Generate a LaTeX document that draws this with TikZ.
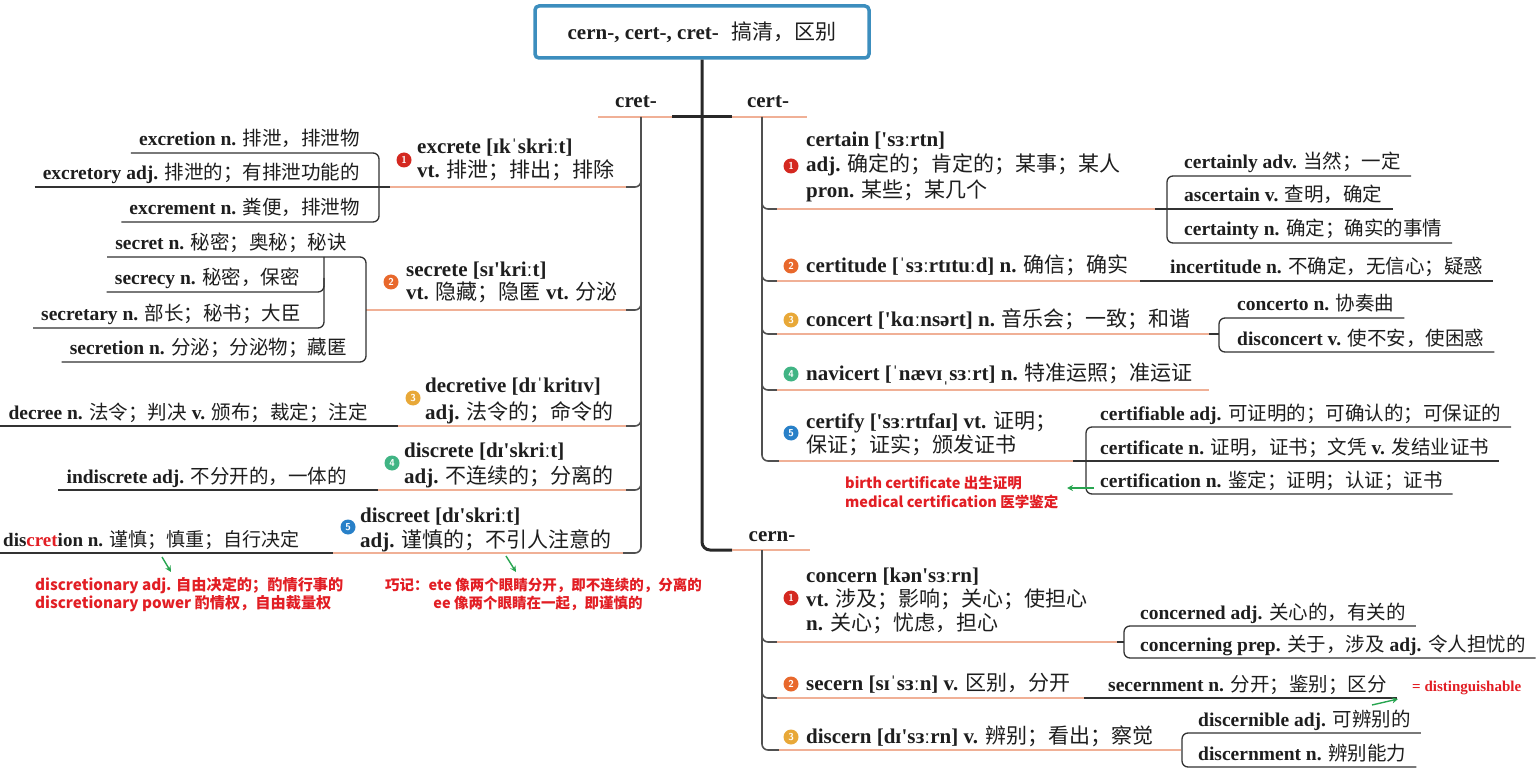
\documentclass[tikz,border=0pt]{standalone}
\usepackage{fontspec}
\setmainfont{Liberation Serif}
\newfontfamily\zhfont{Noto Sans CJK SC}
\newfontfamily\redfont{Noto Sans CJK SC}
\usetikzlibrary{calc,arrows.meta}
\newcommand\zh[1]{{\zhfont\mdseries #1}}
\newcommand\qs{\textquotesingle}
\definecolor{tblue}{RGB}{60,142,190}
\definecolor{trunkc}{RGB}{40,40,40}
\definecolor{brc}{RGB}{80,80,80}
\definecolor{salc}{RGB}{240,176,150}
\definecolor{kidc}{RGB}{50,50,50}
\definecolor{redc}{RGB}{226,30,36}
\definecolor{grnc}{RGB}{40,165,80}
\definecolor{bA}{RGB}{212,40,32}
\definecolor{bB}{RGB}{232,104,44}
\definecolor{bC}{RGB}{232,168,56}
\definecolor{bD}{RGB}{64,180,132}
\definecolor{bE}{RGB}{40,128,200}
\definecolor{txt}{RGB}{30,30,30}
\tikzset{
 it/.style={anchor=base west, inner sep=0pt, font=\fontsize{21}{25}\selectfont\bfseries, text=txt},
 kidL/.style={anchor=base east, inner sep=0pt, font=\fontsize{19.5}{23}\selectfont\bfseries, text=txt},
 kidR/.style={anchor=base west, inner sep=0pt, font=\fontsize{19.5}{23}\selectfont\bfseries, text=txt},
 notered/.style={anchor=base west, inner sep=0pt, font=\redfont\bfseries\fontsize{14.5}{17}\selectfont, text=redc},
 badge/.style={circle, inner sep=0pt, minimum size=15pt, text=white, font=\sffamily\bfseries\fontsize{10}{10}\selectfont},
 brlabel/.style={anchor=base, inner sep=0pt, font=\fontsize{21}{25}\selectfont\bfseries, text=txt},
 trunk/.style={draw=trunkc, line width=3pt},
 brl/.style={draw=brc, line width=1.6pt, rounded corners=6pt},
 sal/.style={draw=salc, line width=1.6pt},
 kid/.style={draw=kidc, line width=1.3pt, rounded corners=6pt},
 arr/.style={draw=grnc, line width=1.4pt, -{Stealth[length=6pt,width=6pt]}},
}
\begin{document}
\begin{tikzpicture}[x=1pt,y=-1pt]
\path[fill=white] (0,0) rectangle (1536,775);
\useasboundingbox (0,0) rectangle (1536,775);

% title and trunk
\node[draw=tblue, line width=3.5pt, rounded corners=4pt, minimum width=334pt, minimum height=52pt, inner sep=0pt, font=\fontsize{21}{25}\selectfont\bfseries, text=txt] (title) at (702,32) {cern-, cert-, cret-\hspace{0.6em}\zh{搞清，区别}};
\draw[trunk, rounded corners=8pt] (title.south) -- (702,550) -- (732,550);
\draw[trunk] (672,117) -- (732,117);
\draw[sal] (598,117) -- (672,117);
\draw[sal] (732,117) -- (807,117);
\draw[sal] (732,550) -- (810,550);
\node[brlabel] (cret) at (636,108) {cret-};
\node[brlabel] (cert) at (768,108) {cert-};
\node[brlabel] (cern) at (772,541) {cern-};

% ===== cret- branch =====
\draw[brl] (641,117) -- (641,553) -- (622,553);

% excrete
\node[badge, fill=bA] (bd1) at (404,160) {1};
\node[it] (exA) at (417,154) {excrete [ɪkˈskriːt]};
\node[it] (exB) at (417,178) {vt. \zh{排泄；排出；排除}};
\draw[sal] (389,187) -- (627,187);
\draw[brl] (641,170) -- (641,187) -- (626,187);
\node[kidL] (exa) at (360,146) {excretion n. \zh{排泄，排泄物}};
\node[kidL] (exb) at (360,180) {excretory adj. \zh{排泄的；有排泄功能的}};
\node[kidL] (exc) at (360,215) {excrement n. \zh{粪便，排泄物}};
\draw[kid] let \p1=(exa.west), \p2=(exc.west) in ({\x1-8},153) -- (379,153) -- (379,222) -- ({\x2-8},222);
\draw[kid] let \p1=(exb.west) in ({\x1-8},187) -- (390,187);

% secrete
\node[badge, fill=bB] (bd2) at (391,282) {2};
\node[it] (seA) at (406,277) {secrete [sɪ\qs kriːt]};
\node[it] (seB) at (406,300) {vt. \zh{隐藏；隐匿} vt. \zh{分泌}};
\draw[sal] (366,310) -- (627,310);
\draw[brl] (641,290) -- (641,310) -- (626,310);
\node[kidL] (sea) at (347,250) {secret n. \zh{秘密；奥秘；秘诀}};
\node[kidL] (seb) at (300,285) {secrecy n. \zh{秘密，保密}};
\node[kidL] (sec) at (301,321) {secretary n. \zh{部长；秘书；大臣}};
\node[kidL] (sed) at (347,355) {secretion n. \zh{分泌；分泌物；藏匿}};
\draw[kid] let \p1=(sea.west), \p2=(sed.west) in ({\x1-8},257) -- (366,257) -- (366,362) -- ({\x2-8},362);
\draw[kid] let \p1=(sec.west) in (324,257) -- (324,328) -- ({\x1-8},328);
\draw[kid] let \p1=(seb.west) in ({\x1-8},292) -- (324,292) -- (324,278);

% decretive
\node[badge, fill=bC] (bd3) at (413,398) {3};
\node[it] (deA) at (425,392) {decretive [dɪˈkritɪv]};
\node[it] (deB) at (425,419) {adj. \zh{法令的；命令的}};
\draw[sal] (398,426) -- (627,426);
\draw[brl] (641,405) -- (641,426) -- (626,426);
\node[kidL] (dea) at (368,419) {decree n. \zh{法令；判决} v. \zh{颁布；裁定；注定}};
\draw[kid] let \p1=(dea.west) in ({\x1-8},426) -- (398,426);

% discrete
\node[badge, fill=bD] (bd4) at (392,463) {4};
\node[it] (diA) at (404,457) {discrete [dɪ\qs skriːt]};
\node[it] (diB) at (404,483) {adj. \zh{不连续的；分离的}};
\draw[sal] (378,490) -- (627,490);
\draw[brl] (641,470) -- (641,490) -- (626,490);
\node[kidL] (dia) at (347,483) {indiscrete adj. \zh{不分开的，一体的}};
\draw[kid] let \p1=(dia.west) in ({\x1-8},490) -- (378,490);

% discreet
\node[badge, fill=bE] (bd5) at (348,527) {5};
\node[it] (dtA) at (360,522) {discreet [dɪ\qs skriːt]};
\node[it] (dtB) at (360,547) {adj. \zh{谨慎的；不引人注意的}};
\draw[sal] (333,553) -- (623,553);
\node[kidL, anchor=base west, font=\fontsize{19}{23}\selectfont\bfseries] (dta) at (3,546) {dis\textcolor{redc}{cret}ion n. \zh{谨慎；慎重；自行决定}};
\draw[kid] (0,553) -- (333,553);

% notes left
\node[notered, font=\redfont\bfseries\fontsize{15.2}{18}\selectfont] (n1a) at (35,590) {discretionary adj. 自由决定的；酌情行事的};
\node[notered, font=\redfont\bfseries\fontsize{15.2}{18}\selectfont] (n1b) at (35,608) {discretionary power 酌情权，自由裁量权};
\draw[arr] (162,557) -- (171,572);
\node[notered] (n2a) at (385,590) {巧记：ete 像两个眼睛分开，即不连续的，分离的};
\node[notered, anchor=base] (n2b) at (538,608) {ee 像两个眼睛在一起，即谨慎的};
\draw[arr] (506,556) -- (516,572);

% ===== cert- branch =====
\draw[brl] (762,117) -- (762,461) -- (780,461);

% certain
\node[badge, fill=bA] (cb1) at (791,166) {1};
\node[it] (caA) at (806,147) {certain [\qs sɜːrtn]};
\node[it] (caB) at (806,172) {adj. \zh{确定的；肯定的；某事；某人}};
\node[it] (caC) at (806,198) {pron. \zh{某些；某几个}};
\draw[brl] (762,190) -- (762,209) -- (778,209);
\draw[sal] (777,209) -- (1155,209);
\node[kidR] (caa) at (1184,169) {certainly adv. \zh{当然；一定}};
\node[kidR] (cab) at (1184,202) {ascertain v. \zh{查明，确定}};
\node[kidR] (cac) at (1184,236) {certainty n. \zh{确定；确实的事情}};
\draw[kid] let \p1=(caa.east), \p2=(cac.east) in ({\x1+10},176) -- (1167,176) -- (1167,243) -- ({\x2+10},243);
\draw[kid] let \p1=(cab.east) in (1155,209) -- ({\x1+10},209);

% certitude
\node[badge, fill=bB] (cb2) at (791,266) {2};
\node[it] (ctA) at (806,273) {certitude [ˈsɜːrtɪtuːd] n. \zh{确信；确实}};
\draw[brl] (762,262) -- (762,281) -- (778,281);
\draw[sal] (777,281) -- (1140,281);
\node[kidR] (cta) at (1170,274) {incertitude n. \zh{不确定，无信心；疑惑}};
\draw[kid] let \p1=(cta.east) in (1140,281) -- ({\x1+10},281);

% concert
\node[badge, fill=bC] (cb3) at (791,320) {3};
\node[it] (coA) at (806,327) {concert [\qs kɑːnsərt] n. \zh{音乐会；一致；和谐}};
\draw[brl] (762,315) -- (762,334) -- (778,334);
\draw[sal] (777,334) -- (1209,334);
\node[kidR] (coa) at (1237,311) {concerto n. \zh{协奏曲}};
\node[kidR] (cob) at (1237,345) {disconcert v. \zh{使不安，使困惑}};
\draw[kid] let \p1=(coa.east), \p2=(cob.east) in ({\x1+10},318) -- (1219,318) -- (1219,352) -- ({\x2+10},352);
\draw[kid] (1209,334) -- (1219,334);

% navicert
\node[badge, fill=bD] (cb4) at (791,374) {4};
\node[it] (nvA) at (806,380) {navicert [ˈnævɪˌsɜːrt] n. \zh{特准运照；准运证}};
\draw[brl] (762,371) -- (762,390) -- (778,390);
\draw[sal] (777,390) -- (1209,390);

% certify
\node[badge, fill=bE] (cb5) at (791,433) {5};
\node[it] (cfA) at (806,428) {certify [\qs sɜːrtɪfaɪ] vt. \zh{证明；}};
\node[it] (cfB) at (806,452) {\zh{保证；证实；颁发证书}};
\draw[sal] (779,461) -- (1073,461);
\node[kidR] (cfa) at (1100,420) {certifiable adj. \zh{可证明的；可确认的；可保证的}};
\node[kidR] (cfb) at (1100,454) {certificate n. \zh{证明，证书；文凭} v. \zh{发结业证书}};
\node[kidR] (cfc) at (1100,487) {certification n. \zh{鉴定；证明；认证；证书}};
\draw[kid] let \p1=(cfa.east), \p2=(cfc.east) in ({\x1+10},427) -- (1086,427) -- (1086,494) -- ({\x2+10},494);
\draw[kid] let \p1=(cfb.east) in (1073,461) -- ({\x1+10},461);
\draw[arr] (1094,488) -- (1067,488);
\node[notered] (n3a) at (845,488) {birth certificate 出生证明};
\node[notered] (n3b) at (845,507) {medical certification 医学鉴定};

% ===== cern- branch =====
\draw[brl] (762,550) -- (762,750) -- (780,750);

% concern
\node[badge, fill=bA] (nb1) at (791,598) {1};
\node[it] (ccA) at (806,582) {concern [kən\qs sɜːrn]};
\node[it] (ccB) at (806,606) {vt. \zh{涉及；影响；关心；使担心}};
\node[it] (ccC) at (806,630) {n. \zh{关心；忧虑，担心}};
\draw[brl] (762,622) -- (762,642) -- (778,642);
\draw[sal] (777,642) -- (1117,642);
\node[kidR] (cca) at (1140,619) {concerned adj. \zh{关心的，有关的}};
\node[kidR] (ccb) at (1140,651) {concerning prep. \zh{关于，涉及} adj. \zh{令人担忧的}};
\draw[kid] let \p1=(cca.east), \p2=(ccb.east) in ({\x1+10},626) -- (1124,626) -- (1124,658) -- ({\x2+10},658);
\draw[kid] (1117,642) -- (1124,642);

% secern
\node[badge, fill=bB] (nb2) at (791,684) {2};
\node[it] (scA) at (806,690) {secern [sɪˈsɜːn] v. \zh{区别，分开}};
\draw[brl] (762,679) -- (762,698) -- (778,698);
\draw[sal] (777,698) -- (1084,698);
\node[kidR] (sca) at (1108,691) {secernment n. \zh{分开；鉴别；区分}};
\draw[kid] let \p1=(sca.east) in (1084,698) -- ({\x1+10},698);
\draw[arr] (1372,705) -- (1398,699);
\node[anchor=base west, inner sep=0pt, font=\fontsize{15}{18}\selectfont\bfseries, text=redc] (dist) at (1412,691) {= distinguishable};

% discern
\node[badge, fill=bC] (nb3) at (791,737) {3};
\node[it] (dcA) at (806,743) {discern [dɪ\qs sɜːrn] v. \zh{辨别；看出；察觉}};
\draw[sal] (779,750) -- (1181,750);
\node[kidR] (dca) at (1198,726) {discernible adj. \zh{可辨别的}};
\node[kidR] (dcb) at (1198,760) {discernment n. \zh{辨别能力}};
\draw[kid] let \p1=(dca.east), \p2=(dcb.east) in ({\x1+10},733) -- (1182,733) -- (1182,767) -- ({\x2+10},767);
\end{tikzpicture}
\end{document}
